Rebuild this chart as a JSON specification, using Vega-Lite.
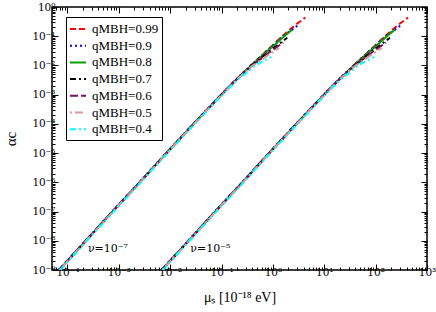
{
  "$schema": "https://vega.github.io/schema/vega-lite/v6.json",
  "width": 375,
  "height": 263,
  "autosize": "none",
  "padding": {"left": 52, "top": 7, "right": 9, "bottom": 42},
  "config": {
    "font": "Liberation Serif",
    "view": {"stroke": "black", "strokeWidth": 1.5},
    "axis": {"labelFont": "DejaVu Serif", "titleFont": "Liberation Serif", "labelColor": "black", "titleColor": "black", "tickColor": "black", "titleFontWeight": "normal", "tickWidth": 1}
  },
  "datasets": {
    "curves": [
      {"q":"0.99","n":"7","m":6.761e-5,"a":1e-9},{"q":"0.99","n":"7","m":2.239e-4,"a":1e-8},{"q":"0.99","n":"7","m":7.413e-4,"a":1e-7},{"q":"0.99","n":"7","m":2.512e-3,"a":1e-6},{"q":"0.99","n":"7","m":8.318e-3,"a":1e-5},{"q":"0.99","n":"7","m":2.818e-2,"a":1e-4},{"q":"0.99","n":"7","m":9.772e-2,"a":1e-3},{"q":"0.99","n":"7","m":0.1862,"a":0.003162},{"q":"0.99","n":"7","m":0.3715,"a":0.01},{"q":"0.99","n":"7","m":0.7586,"a":0.03162},{"q":"0.99","n":"7","m":1.5136,"a":0.1},{"q":"0.99","n":"7","m":2.8184,"a":0.2512},{"q":"0.99","n":"7","m":4.2658,"a":0.4365},
      {"q":"0.9","n":"7","m":6.761e-5,"a":1e-9},{"q":"0.9","n":"7","m":2.239e-4,"a":1e-8},{"q":"0.9","n":"7","m":7.413e-4,"a":1e-7},{"q":"0.9","n":"7","m":2.512e-3,"a":1e-6},{"q":"0.9","n":"7","m":8.318e-3,"a":1e-5},{"q":"0.9","n":"7","m":2.818e-2,"a":1e-4},{"q":"0.9","n":"7","m":9.772e-2,"a":1e-3},{"q":"0.9","n":"7","m":0.1862,"a":0.003162},{"q":"0.9","n":"7","m":0.3715,"a":0.01},{"q":"0.9","n":"7","m":0.7586,"a":0.03162},{"q":"0.9","n":"7","m":1.5849,"a":0.1},{"q":"0.9","n":"7","m":2.992,"a":0.2291},
      {"q":"0.8","n":"7","m":6.918e-5,"a":1e-9},{"q":"0.8","n":"7","m":2.291e-4,"a":1e-8},{"q":"0.8","n":"7","m":7.586e-4,"a":1e-7},{"q":"0.8","n":"7","m":2.570e-3,"a":1e-6},{"q":"0.8","n":"7","m":8.511e-3,"a":1e-5},{"q":"0.8","n":"7","m":2.884e-2,"a":1e-4},{"q":"0.8","n":"7","m":0.1,"a":1e-3},{"q":"0.8","n":"7","m":0.1905,"a":0.003162},{"q":"0.8","n":"7","m":0.3802,"a":0.01},{"q":"0.8","n":"7","m":0.7943,"a":0.03162},{"q":"0.8","n":"7","m":1.6596,"a":0.1},{"q":"0.8","n":"7","m":2.393,"a":0.1698},
      {"q":"0.7","n":"7","m":6.918e-5,"a":1e-9},{"q":"0.7","n":"7","m":2.291e-4,"a":1e-8},{"q":"0.7","n":"7","m":7.586e-4,"a":1e-7},{"q":"0.7","n":"7","m":2.570e-3,"a":1e-6},{"q":"0.7","n":"7","m":8.511e-3,"a":1e-5},{"q":"0.7","n":"7","m":2.884e-2,"a":1e-4},{"q":"0.7","n":"7","m":0.1,"a":1e-3},{"q":"0.7","n":"7","m":0.1905,"a":0.003162},{"q":"0.7","n":"7","m":0.3890,"a":0.01},{"q":"0.7","n":"7","m":0.8710,"a":0.03162},{"q":"0.7","n":"7","m":1.9055,"a":0.08913},
      {"q":"0.6","n":"7","m":6.918e-5,"a":1e-9},{"q":"0.6","n":"7","m":2.291e-4,"a":1e-8},{"q":"0.6","n":"7","m":7.586e-4,"a":1e-7},{"q":"0.6","n":"7","m":2.570e-3,"a":1e-6},{"q":"0.6","n":"7","m":8.511e-3,"a":1e-5},{"q":"0.6","n":"7","m":2.884e-2,"a":1e-4},{"q":"0.6","n":"7","m":0.1,"a":1e-3},{"q":"0.6","n":"7","m":0.1905,"a":0.003162},{"q":"0.6","n":"7","m":0.3981,"a":0.01},{"q":"0.6","n":"7","m":0.9333,"a":0.03162},{"q":"0.6","n":"7","m":1.5849,"a":0.06026},
      {"q":"0.5","n":"7","m":6.998e-5,"a":1e-9},{"q":"0.5","n":"7","m":2.317e-4,"a":1e-8},{"q":"0.5","n":"7","m":7.674e-4,"a":1e-7},{"q":"0.5","n":"7","m":2.600e-3,"a":1e-6},{"q":"0.5","n":"7","m":8.610e-3,"a":1e-5},{"q":"0.5","n":"7","m":2.917e-2,"a":1e-4},{"q":"0.5","n":"7","m":0.1012,"a":1e-3},{"q":"0.5","n":"7","m":0.1928,"a":0.003162},{"q":"0.5","n":"7","m":0.4074,"a":0.01},{"q":"0.5","n":"7","m":1.3183,"a":0.03981},
      {"q":"0.4","n":"7","m":7.244e-5,"a":1e-9},{"q":"0.4","n":"7","m":2.399e-4,"a":1e-8},{"q":"0.4","n":"7","m":7.943e-4,"a":1e-7},{"q":"0.4","n":"7","m":2.692e-3,"a":1e-6},{"q":"0.4","n":"7","m":8.913e-3,"a":1e-5},{"q":"0.4","n":"7","m":3.020e-2,"a":1e-4},{"q":"0.4","n":"7","m":0.1047,"a":1e-3},{"q":"0.4","n":"7","m":0.2042,"a":0.003162},{"q":"0.4","n":"7","m":0.4571,"a":0.01},{"q":"0.4","n":"7","m":1.0233,"a":0.02138},
      {"q":"0.99","n":"5","m":6.761e-3,"a":1e-9},{"q":"0.99","n":"5","m":2.239e-2,"a":1e-8},{"q":"0.99","n":"5","m":7.413e-2,"a":1e-7},{"q":"0.99","n":"5","m":0.2512,"a":1e-6},{"q":"0.99","n":"5","m":0.8318,"a":1e-5},{"q":"0.99","n":"5","m":2.818,"a":1e-4},{"q":"0.99","n":"5","m":9.772,"a":1e-3},{"q":"0.99","n":"5","m":18.62,"a":0.003162},{"q":"0.99","n":"5","m":37.15,"a":0.01},{"q":"0.99","n":"5","m":75.86,"a":0.03162},{"q":"0.99","n":"5","m":151.36,"a":0.1},{"q":"0.99","n":"5","m":281.84,"a":0.2512},{"q":"0.99","n":"5","m":426.58,"a":0.4365},
      {"q":"0.9","n":"5","m":6.761e-3,"a":1e-9},{"q":"0.9","n":"5","m":2.239e-2,"a":1e-8},{"q":"0.9","n":"5","m":7.413e-2,"a":1e-7},{"q":"0.9","n":"5","m":0.2512,"a":1e-6},{"q":"0.9","n":"5","m":0.8318,"a":1e-5},{"q":"0.9","n":"5","m":2.818,"a":1e-4},{"q":"0.9","n":"5","m":9.772,"a":1e-3},{"q":"0.9","n":"5","m":18.62,"a":0.003162},{"q":"0.9","n":"5","m":37.15,"a":0.01},{"q":"0.9","n":"5","m":75.86,"a":0.03162},{"q":"0.9","n":"5","m":158.49,"a":0.1},{"q":"0.9","n":"5","m":299.2,"a":0.2291},
      {"q":"0.8","n":"5","m":6.918e-3,"a":1e-9},{"q":"0.8","n":"5","m":2.291e-2,"a":1e-8},{"q":"0.8","n":"5","m":7.586e-2,"a":1e-7},{"q":"0.8","n":"5","m":0.2570,"a":1e-6},{"q":"0.8","n":"5","m":0.8511,"a":1e-5},{"q":"0.8","n":"5","m":2.884,"a":1e-4},{"q":"0.8","n":"5","m":10.0,"a":1e-3},{"q":"0.8","n":"5","m":19.05,"a":0.003162},{"q":"0.8","n":"5","m":38.02,"a":0.01},{"q":"0.8","n":"5","m":79.43,"a":0.03162},{"q":"0.8","n":"5","m":165.96,"a":0.1},{"q":"0.8","n":"5","m":239.3,"a":0.1698},
      {"q":"0.7","n":"5","m":6.918e-3,"a":1e-9},{"q":"0.7","n":"5","m":2.291e-2,"a":1e-8},{"q":"0.7","n":"5","m":7.586e-2,"a":1e-7},{"q":"0.7","n":"5","m":0.2570,"a":1e-6},{"q":"0.7","n":"5","m":0.8511,"a":1e-5},{"q":"0.7","n":"5","m":2.884,"a":1e-4},{"q":"0.7","n":"5","m":10.0,"a":1e-3},{"q":"0.7","n":"5","m":19.05,"a":0.003162},{"q":"0.7","n":"5","m":38.90,"a":0.01},{"q":"0.7","n":"5","m":87.10,"a":0.03162},{"q":"0.7","n":"5","m":190.55,"a":0.08913},
      {"q":"0.6","n":"5","m":6.918e-3,"a":1e-9},{"q":"0.6","n":"5","m":2.291e-2,"a":1e-8},{"q":"0.6","n":"5","m":7.586e-2,"a":1e-7},{"q":"0.6","n":"5","m":0.2570,"a":1e-6},{"q":"0.6","n":"5","m":0.8511,"a":1e-5},{"q":"0.6","n":"5","m":2.884,"a":1e-4},{"q":"0.6","n":"5","m":10.0,"a":1e-3},{"q":"0.6","n":"5","m":19.05,"a":0.003162},{"q":"0.6","n":"5","m":39.81,"a":0.01},{"q":"0.6","n":"5","m":93.33,"a":0.03162},{"q":"0.6","n":"5","m":158.49,"a":0.06026},
      {"q":"0.5","n":"5","m":6.998e-3,"a":1e-9},{"q":"0.5","n":"5","m":2.317e-2,"a":1e-8},{"q":"0.5","n":"5","m":7.674e-2,"a":1e-7},{"q":"0.5","n":"5","m":0.2600,"a":1e-6},{"q":"0.5","n":"5","m":0.8610,"a":1e-5},{"q":"0.5","n":"5","m":2.917,"a":1e-4},{"q":"0.5","n":"5","m":10.12,"a":1e-3},{"q":"0.5","n":"5","m":19.28,"a":0.003162},{"q":"0.5","n":"5","m":40.74,"a":0.01},{"q":"0.5","n":"5","m":131.83,"a":0.03981},
      {"q":"0.4","n":"5","m":7.244e-3,"a":1e-9},{"q":"0.4","n":"5","m":2.399e-2,"a":1e-8},{"q":"0.4","n":"5","m":7.943e-2,"a":1e-7},{"q":"0.4","n":"5","m":0.2692,"a":1e-6},{"q":"0.4","n":"5","m":0.8913,"a":1e-5},{"q":"0.4","n":"5","m":3.020,"a":1e-4},{"q":"0.4","n":"5","m":10.47,"a":1e-3},{"q":"0.4","n":"5","m":20.42,"a":0.003162},{"q":"0.4","n":"5","m":45.71,"a":0.01},{"q":"0.4","n":"5","m":102.33,"a":0.02138}
    ],
    "notes": [
      {"m": 2.5e-4, "a": 4.12e-9, "t": "ν=10⁻⁷"},
      {"m": 0.0247, "a": 4.12e-9, "t": "ν=10⁻⁵"}
    ]
  },
  "layer": [
    {
      "data": {"name": "curves"},
      "mark": {"type": "line", "strokeWidth": 2, "clip": true},
      "encoding": {
        "x": {"field": "m", "type": "quantitative",
          "scale": {"type": "log", "domain": [5e-5, 1000], "nice": false},
          "axis": {"orient": "bottom", "title": "μₛ [10⁻¹⁸ eV]", "titleFontSize": 14, "titlePadding": 10,
            "domain": false, "grid": false, "labelFontSize": 10.5, "labelPadding": 3, "labelFlush": false, "labelOverlap": false,
            "values": [5e-5,6e-5,7e-5,8e-5,9e-5,1e-4,2e-4,3e-4,4e-4,5e-4,6e-4,7e-4,8e-4,9e-4,1e-3,2e-3,3e-3,4e-3,5e-3,6e-3,7e-3,8e-3,9e-3,0.01,0.02,0.03,0.04,0.05,0.06,0.07,0.08,0.09,0.1,0.2,0.3,0.4,0.5,0.6,0.7,0.8,0.9,1,2,3,4,5,6,7,8,9,10,20,30,40,50,60,70,80,90,100,200,300,400,500,600,700,800,900,1000],
            "labelExpr": "abs(log(datum.value)/LN10 - round(log(datum.value)/LN10)) < 0.001 ? '10' + (round(log(datum.value)/LN10) < 0 ? '⁻' : '') + ['⁰','¹','²','³','⁴','⁵','⁶','⁷','⁸','⁹'][abs(round(log(datum.value)/LN10))] : ''",
            "tickSize": {"condition": {"test": "abs(log(datum.value)/LN10 - round(log(datum.value)/LN10)) < 0.001", "value": -6}, "value": -3}
          }
        },
        "y": {"field": "a", "type": "quantitative",
          "scale": {"type": "log", "domain": [1e-9, 1], "nice": false},
          "axis": {"orient": "left", "title": "αc", "titleFontSize": 15, "titlePadding": 13,
            "domain": false, "grid": false, "labelFontSize": 10.5, "labelPadding": 3, "labelFlush": false, "labelOverlap": false,
            "values": [1e-9,2e-9,3e-9,4e-9,5e-9,6e-9,7e-9,8e-9,9e-9,1e-8,2e-8,3e-8,4e-8,5e-8,6e-8,7e-8,8e-8,9e-8,1e-7,2e-7,3e-7,4e-7,5e-7,6e-7,7e-7,8e-7,9e-7,1e-6,2e-6,3e-6,4e-6,5e-6,6e-6,7e-6,8e-6,9e-6,1e-5,2e-5,3e-5,4e-5,5e-5,6e-5,7e-5,8e-5,9e-5,1e-4,2e-4,3e-4,4e-4,5e-4,6e-4,7e-4,8e-4,9e-4,1e-3,2e-3,3e-3,4e-3,5e-3,6e-3,7e-3,8e-3,9e-3,0.01,0.02,0.03,0.04,0.05,0.06,0.07,0.08,0.09,0.1,0.2,0.3,0.4,0.5,0.6,0.7,0.8,0.9,1],
            "labelExpr": "abs(log(datum.value)/LN10 - round(log(datum.value)/LN10)) < 0.001 ? '10' + (round(log(datum.value)/LN10) < 0 ? '⁻' : '') + ['⁰','¹','²','³','⁴','⁵','⁶','⁷','⁸','⁹'][abs(round(log(datum.value)/LN10))] : ''",
            "tickSize": {"condition": {"test": "abs(log(datum.value)/LN10 - round(log(datum.value)/LN10)) < 0.001", "value": -6}, "value": -3}
          }
        },
        "color": {"field": "q", "type": "nominal",
          "scale": {"domain": ["0.99","0.9","0.8","0.7","0.6","0.5","0.4"], "range": ["#ff0000","#0000ff","#00a000","#000000","#7a1060","#d89a9a","#00ffff"]},
          "legend": {"orient": "none", "legendX": 14, "legendY": 10, "title": null, "strokeColor": "black", "fillColor": "white", "padding": 3,
            "symbolType": "stroke", "symbolSize": 256, "symbolStrokeWidth": 2, "labelFont": "Liberation Serif", "labelFontSize": 13, "labelColor": "black",
            "labelExpr": "'qMBH=' + datum.label", "rowPadding": 0.7, "labelOffset": 5}
        },
        "strokeDash": {"field": "q", "type": "nominal",
          "scale": {"domain": ["0.99","0.9","0.8","0.7","0.6","0.5","0.4"], "range": [[6,3],[2,3],[1,0],[6,3,2,3],[8,3],[2,3,8,3],[6,3,2,3,2,3]]},
          "legend": {"orient": "none", "legendX": 14, "legendY": 10, "title": null, "strokeColor": "black", "fillColor": "white", "padding": 3,
            "symbolType": "stroke", "symbolSize": 256, "symbolStrokeWidth": 2, "labelFont": "Liberation Serif", "labelFontSize": 13, "labelColor": "black",
            "labelExpr": "'qMBH=' + datum.label", "rowPadding": 0.7, "labelOffset": 5}
        },
        "detail": {"field": "n", "type": "nominal"}
      }
    },
    {
      "data": {"name": "notes"},
      "mark": {"type": "text", "align": "left", "baseline": "alphabetic", "fontSize": 11, "font": "DejaVu Serif", "color": "black"},
      "encoding": {
        "x": {"field": "m", "type": "quantitative",
          "scale": {"type": "log", "domain": [5e-5, 1000], "nice": false},
          "axis": {"orient": "top", "title": null, "labels": false, "domain": false, "grid": false,
            "values": [5e-5,6e-5,7e-5,8e-5,9e-5,1e-4,2e-4,3e-4,4e-4,5e-4,6e-4,7e-4,8e-4,9e-4,1e-3,2e-3,3e-3,4e-3,5e-3,6e-3,7e-3,8e-3,9e-3,0.01,0.02,0.03,0.04,0.05,0.06,0.07,0.08,0.09,0.1,0.2,0.3,0.4,0.5,0.6,0.7,0.8,0.9,1,2,3,4,5,6,7,8,9,10,20,30,40,50,60,70,80,90,100,200,300,400,500,600,700,800,900,1000],
            "tickSize": {"condition": {"test": "abs(log(datum.value)/LN10 - round(log(datum.value)/LN10)) < 0.001", "value": -6}, "value": -3}
          }
        },
        "y": {"field": "a", "type": "quantitative",
          "scale": {"type": "log", "domain": [1e-9, 1], "nice": false},
          "axis": {"orient": "right", "title": null, "labels": false, "domain": false, "grid": false,
            "values": [1e-9,2e-9,3e-9,4e-9,5e-9,6e-9,7e-9,8e-9,9e-9,1e-8,2e-8,3e-8,4e-8,5e-8,6e-8,7e-8,8e-8,9e-8,1e-7,2e-7,3e-7,4e-7,5e-7,6e-7,7e-7,8e-7,9e-7,1e-6,2e-6,3e-6,4e-6,5e-6,6e-6,7e-6,8e-6,9e-6,1e-5,2e-5,3e-5,4e-5,5e-5,6e-5,7e-5,8e-5,9e-5,1e-4,2e-4,3e-4,4e-4,5e-4,6e-4,7e-4,8e-4,9e-4,1e-3,2e-3,3e-3,4e-3,5e-3,6e-3,7e-3,8e-3,9e-3,0.01,0.02,0.03,0.04,0.05,0.06,0.07,0.08,0.09,0.1,0.2,0.3,0.4,0.5,0.6,0.7,0.8,0.9,1],
            "tickSize": {"condition": {"test": "abs(log(datum.value)/LN10 - round(log(datum.value)/LN10)) < 0.001", "value": -6}, "value": -3}
          }
        },
        "text": {"field": "t", "type": "nominal"}
      }
    }
  ],
  "resolve": {"axis": {"x": "independent", "y": "independent"}}
}
